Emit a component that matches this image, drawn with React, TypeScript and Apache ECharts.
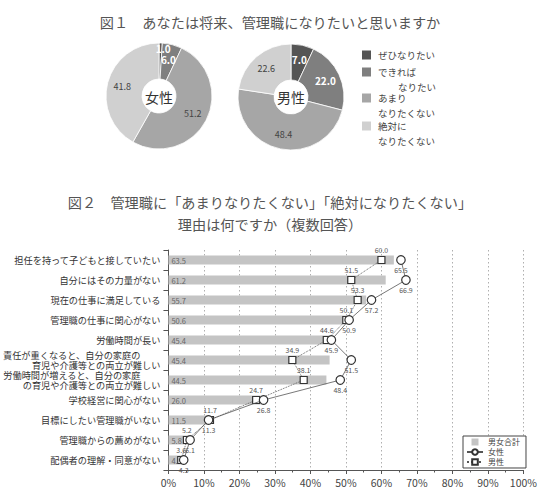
import React, { useEffect, useRef } from "react";
import * as echarts from "echarts";

// 図１: 将来の管理職志向（女性・男性, %）
const pieCategories = ["ぜひなりたい", "できればなりたい", "あまりなりたくない", "絶対になりたくない"];
const pieLegendLines = [["ぜひなりたい"], ["できれば", "なりたい"], ["あまり", "なりたくない"], ["絶対に", "なりたくない"]];
const femaleShares = [1.0, 6.0, 51.2, 41.8];
const maleShares = [7.0, 22.0, 48.4, 22.6];

// 図２: 管理職になりたくない理由（複数回答, %）
const reasons = [
  "担任を持って子どもと接していたい",
  "自分にはその力量がない",
  "現在の仕事に満足している",
  "管理職の仕事に関心がない",
  "労働時間が長い",
  "責任が重くなると、自分の家庭の\n育児や介護等との両立が難しい",
  "労働時間が増えると、自分の家庭\nの育児や介護等との両立が難しい",
  "学校経営に関心がない",
  "目標にしたい管理職がいない",
  "管理職からの薦めがない",
  "配偶者の理解・同意がない",
];
const totalPct = [63.5, 61.2, 55.7, 50.6, 45.4, 45.4, 44.5, 26.0, 11.5, 5.8, 4.0];
const femalePct = [65.5, 66.9, 57.2, 50.9, 45.9, 51.5, 48.4, 26.8, 11.3, 6.1, 4.3];
const malePct = [60.0, 51.5, 53.3, 50.1, 44.6, 34.9, 38.1, 24.7, 11.7, 5.2, 3.6];
const seriesNames = ["男女合計", "女性", "男性"];

const FONT = "'Noto Sans CJK JP', 'Noto Sans', sans-serif";
const pieColors = ["#555555", "#7f7f7f", "#a6a6a6", "#d0d0d0"];

function pieData(values: number[]) {
  return values.map((v, i) => ({
    name: pieCategories[i],
    value: v,
    itemStyle: { color: pieColors[i] },
    label:
      i < 2
        ? { color: "#ffffff", fontWeight: "bold", fontSize: 10 }
        : { color: "#444444", fontSize: 9 },
  }));
}

// two-line reason labels: the first line sits a little further left
function reasonLabel(value: string) {
  const parts = value.split("\n");
  if (parts.length < 2) return value;
  return `{first|${parts[0]}}\n${parts.slice(1).join("\n")}`;
}

export default function App() {
  const ref = useRef<HTMLDivElement>(null);

  useEffect(() => {
    document.body.style.margin = "0";
    if (!ref.current) return;
    const chart = echarts.init(ref.current, undefined, { renderer: "svg" });

    const pieBase = {
      type: "pie",
      radius: [17, 53],
      startAngle: 90,
      clockwise: true,
      silent: true,
      legendHoverLink: false,
      itemStyle: { borderColor: "#ffffff", borderWidth: 0.8 },
      label: {
        show: true,
        position: "inside",
        fontFamily: FONT,
        formatter: (p: any) => Number(p.value).toFixed(1),
      },
      labelLine: { show: false },
      emphasis: { disabled: true },
    };

    // legend for the donuts, built from the category lines
    const pieLegend: any[] = [];
    const legendRows = [55, 72, 98, 126];
    pieLegendLines.forEach((lines, i) => {
      pieLegend.push({
        type: "rect",
        shape: { x: 362, y: legendRows[i] - 4.5, width: 9, height: 9 },
        style: { fill: pieColors[i] },
      });
      lines.forEach((line, j) => {
        pieLegend.push({
          type: "text",
          x: j > 0 && i === 1 ? 398 : 378,
          y: legendRows[i] + j * 15,
          style: {
            text: line,
            fontSize: 9.5,
            fontFamily: FONT,
            fill: "#444444",
            align: "left",
            verticalAlign: "middle",
          },
        });
      });
    });

    const titleStyle = {
      fontSize: 14.2,
      fontFamily: FONT,
      fill: "#555555",
      align: "center",
      verticalAlign: "middle",
    };

    const valueLabel = (p: any) => Number(p.value).toFixed(1);

    const option: any = {
      animation: false,
      textStyle: { fontFamily: FONT },
      graphic: [
        { type: "text", x: 270, y: 22, style: { ...titleStyle, text: "図１　あなたは将来、管理職になりたいと思いますか" } },
        { type: "text", x: 270, y: 202, style: { ...titleStyle, text: "図２　管理職に「あまりなりたくない」「絶対になりたくない」" } },
        { type: "text", x: 270, y: 224, style: { ...titleStyle, text: "理由は何ですか（複数回答）" } },
        { type: "text", x: 159, y: 97, z: 10, style: { text: "女性", fontSize: 14, fontFamily: FONT, fill: "#333333", align: "center", verticalAlign: "middle" } },
        { type: "text", x: 291, y: 97, z: 10, style: { text: "男性", fontSize: 14, fontFamily: FONT, fill: "#333333", align: "center", verticalAlign: "middle" } },
        ...pieLegend,
      ],
      legend: {
        orient: "vertical",
        right: 14,
        top: 436,
        itemWidth: 16,
        itemHeight: 7,
        itemGap: 2,
        padding: [2, 6, 2, 3],
        borderColor: "#444444",
        borderWidth: 1,
        backgroundColor: "#ffffff",
        textStyle: { fontSize: 8, color: "#444444", fontFamily: FONT },
        data: [
          { name: seriesNames[0], icon: "path://M0,0H8V8H0Z", itemStyle: { color: "#c4c4c4" } },
          { name: seriesNames[1] },
          { name: seriesNames[2] },
        ],
        selectedMode: false,
      },
      grid: { left: 168, right: 11, top: 250, bottom: 27, containLabel: false },
      xAxis: {
        type: "value",
        min: 0,
        max: 100,
        interval: 10,
        axisLine: { show: true, lineStyle: { color: "#555555", width: 1 } },
        axisTick: { show: true, length: 4, lineStyle: { color: "#555555" } },
        minorTick: { show: true, splitNumber: 2, length: 2.5, lineStyle: { color: "#555555" } },
        axisLabel: { formatter: "{value}%", fontSize: 10.5, color: "#444444", margin: 7 },
        splitLine: { show: true, lineStyle: { type: [1.5, 2.5], color: "#9a9a9a", width: 0.8 } },
      },
      yAxis: {
        type: "category",
        data: reasons,
        inverse: true,
        axisLine: { show: true, lineStyle: { color: "#555555", width: 1 } },
        axisTick: { show: true, length: 5, lineStyle: { color: "#555555" } },
        axisLabel: {
          fontSize: 9.2,
          color: "#333333",
          margin: 8,
          lineHeight: 10,
          formatter: reasonLabel,
          rich: {
            first: { fontSize: 9.2, color: "#333333", lineHeight: 10, padding: [0, 20, 0, 0] },
          },
        },
        splitLine: { show: false },
      },
      series: [
        {
          ...pieBase,
          name: "donutFemale",
          center: [159, 96],
          data: pieData(femaleShares),
          labelLayout: (p: any) => (p.dataIndex === 0 ? { dx: 3, dy: -10 } : {}),
        },
        {
          ...pieBase,
          name: "donutMale",
          center: [291, 97],
          data: pieData(maleShares),
        },
        {
          name: seriesNames[0],
          type: "bar",
          data: totalPct,
          barWidth: 9,
          itemStyle: { color: "#c4c4c4" },
          label: {
            show: true,
            position: "insideLeft",
            distance: 3,
            fontSize: 7.5,
            color: "#666666",
            formatter: valueLabel,
          },
          silent: true,
          z: 2,
        },
        {
          name: seriesNames[2],
          type: "line",
          data: malePct,
          symbol: "rect",
          symbolSize: 7,
          itemStyle: { color: "#ffffff", borderColor: "#333333", borderWidth: 1.2 },
          lineStyle: { color: "#555555", width: 0.9, type: "dotted" },
          label: {
            show: true,
            position: "top",
            distance: 2,
            fontSize: 7,
            color: "#555555",
            textBorderWidth: 0,
            formatter: valueLabel,
          },
          silent: true,
          z: 4,
        },
        {
          name: seriesNames[1],
          type: "line",
          data: femalePct,
          symbol: "circle",
          symbolSize: 8.5,
          itemStyle: { color: "#ffffff", borderColor: "#333333", borderWidth: 1.2 },
          lineStyle: { color: "#555555", width: 0.8 },
          label: {
            show: true,
            position: "bottom",
            distance: 2,
            fontSize: 7,
            color: "#555555",
            textBorderWidth: 0,
            formatter: valueLabel,
          },
          silent: true,
          z: 5,
        },
      ],
    };

    chart.setOption(option);
    return () => chart.dispose();
  }, []);

  return (
    <div
      ref={ref}
      style={{ position: "fixed", left: 0, top: 0, width: 540, height: 497, background: "#ffffff" }}
    />
  );
}
